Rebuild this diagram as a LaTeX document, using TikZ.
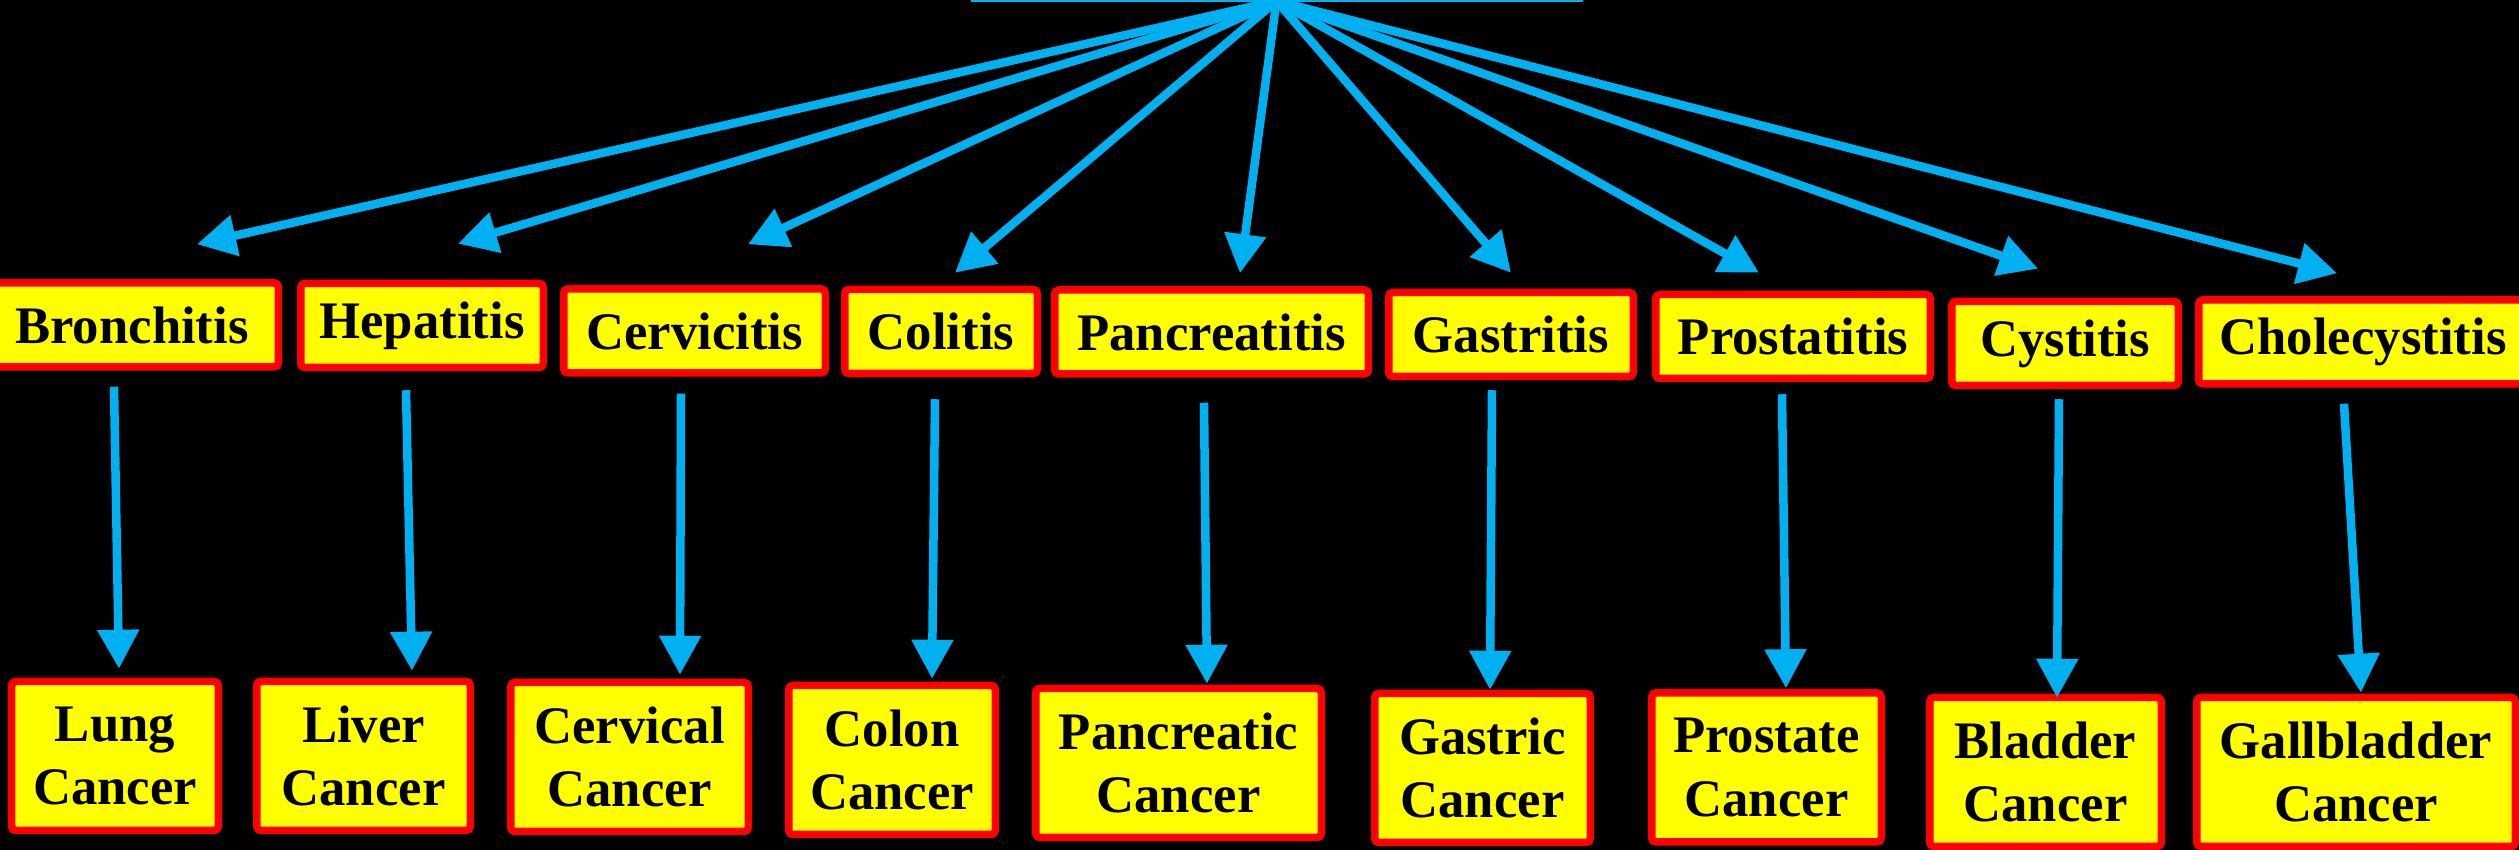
\documentclass[tikz,border=0pt]{standalone}
\usepackage{fontspec}
\setmainfont{Liberation Serif}
\usetikzlibrary{arrows.meta,calc}
\definecolor{icBlue}{HTML}{00B0F0}
\definecolor{icRed}{HTML}{FF0000}
\definecolor{icYellow}{HTML}{FFFF00}
\definecolor{icInk}{HTML}{000000}
\tikzset{
  ic canvas/.style={fill=black},
  ic box/.style={
    draw=icRed,
    fill=icYellow,
    line width=.75mm,
    rounded corners=.4mm,
    inner sep=0pt,
    align=center,
    text=icInk,
    font=\fontsize{15}{18}\selectfont\bfseries
  },
  ic disease/.style={ic box, minimum height=.84cm},
  ic cancer/.style={ic box, minimum height=1.49cm},
  ic root/.style={draw=icBlue, line width=.3mm, minimum height=1cm, outer sep=0pt, anchor=south},
  ic arrow/.style={
    draw=icBlue,
    line width=.85mm,
    -{Triangle[length=3.9mm,width=4mm]}
  }
}

\begin{document}
\begin{tikzpicture}[x=1cm,y=1cm]
  \path[use as bounding box, ic canvas] (0,0) rectangle (25.19,-8.5);
  \node[ic root, minimum width=6.09cm] (root) at (12.765,-.01) {};

  \foreach \i/\x/\y/\w/\txt in {
      1/1.32/3.25/2.925/Bronchitis, 2/4.22/3.255/2.425/Hepatitis,
      3/6.945/3.31/2.615/Cervicitis, 4/9.41/3.315/1.925/Colitis,
      5/12.115/3.32/3.135/Pancreatitis, 6/15.11/3.345/2.445/Gastritis,
      7/17.93/3.365/2.745/Prostatitis, 8/20.65/3.435/2.265/Cystitis,
      9/23.63/3.42/3.285/Cholecystitis} {
    \node[ic disease, minimum width=\w cm] (m\i) at (\x,-\y) {\txt};
  }
  \foreach \i/\x/\y/\w/\txt in {
      1/1.15/7.56/2.065/{Lung\\Cancer}, 2/3.635/7.56/2.135/{Liver\\Cancer},
      3/6.295/7.57/2.375/{Cervical\\Cancer}, 4/8.92/7.60/2.065/{Colon\\Cancer},
      5/11.785/7.63/2.855/{Pancreatic\\Cancer}, 6/14.825/7.68/2.155/{Gastric\\Cancer},
      7/17.665/7.675/2.295/{Prostate\\Cancer}, 8/20.455/7.72/2.315/{Bladder\\Cancer},
      9/23.56/7.72/3.185/{Gallbladder\\Cancer}} {
    \node[ic cancer, minimum width=\w cm] (b\i) at (\x,-\y) {\txt};
  }

  \foreach \i/\dx/\dy in {1/.65/.35, 2/.36/.36, 3/.535/.41, 4/.14/.13, 5/.285/.13,
      6/0/.16, 7/-.34/.18, 8/-.27/.29, 9/-.26/.23} {
    \draw[ic arrow] (root.south) -- ([xshift=\dx cm, yshift=\dy cm]m\i.north);
  }
  \foreach \i/\sx/\sy/\ex/\ey in {1/-.18/-.16/.04/.09, 2/-.16/-.19/.485/.07,
      3/-.135/-.17/.505/.04, 4/-.06/-.22/.40/.03, 5/-.075/-.25/.285/.01,
      6/-.19/-.10/.075/0, 7/-.11/-.12/.195/.01, 8/-.06/-.10/.115/-.04,
      9/-.19/-.16/.05/.01} {
    \draw[ic arrow] ([xshift=\sx cm, yshift=\sy cm]m\i.south)
      -- ([xshift=\ex cm, yshift=\ey cm]b\i.north);
  }
\end{tikzpicture}
\end{document}
